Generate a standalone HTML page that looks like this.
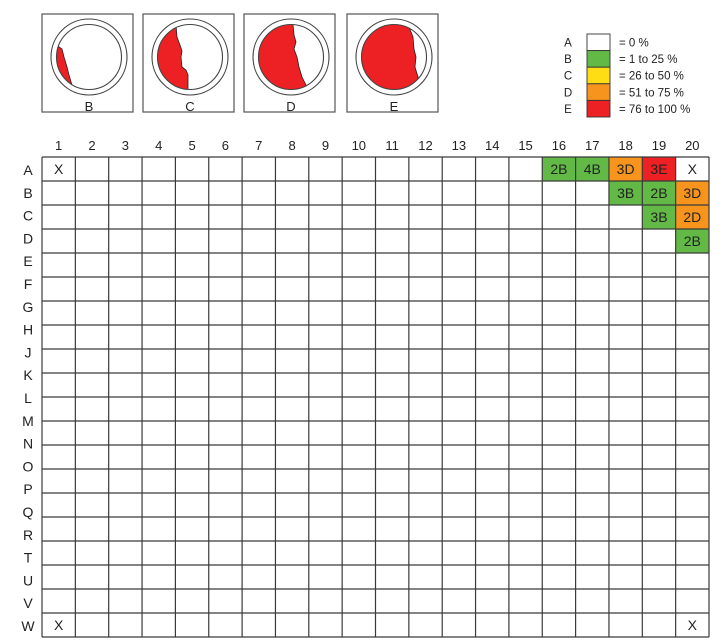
<!DOCTYPE html>
<html><head><meta charset="utf-8"><style>
body{margin:0;background:#fff;font-family:"Liberation Sans",sans-serif;}
svg{display:block}
</style></head><body>
<svg id="chart" width="728" height="641" xmlns="http://www.w3.org/2000/svg" font-family="Liberation Sans, sans-serif"></svg>
<script>
const colLabels=["1","2","3","4","5","6","7","8","9","10","11","12","13","14","15","16","17","18","19","20"];
const rowLabels=["A","B","C","D","E","F","G","H","J","K","L","M","N","O","P","Q","R","T","U","V","W"];
const cellRows=[0,0,0,0,0,0,1,1,1,2,2,3,19,19];
const cellCols=[0,15,16,17,18,19,17,18,19,18,19,19,0,19];
const cellText=["X","2B","4B","3D","3E","X","3B","2B","3D","3B","2D","2B","X","X"];
const legendCodes=["A","B","C","D","E"];
const legendText=["= 0 %","= 1 to 25 %","= 26 to 50 %","= 51 to 75 %","= 76 to 100 %"];
const legendColors=["#ffffff","#62b946","#ffdd15","#f7941d","#ed2024"];
const sampleCodes=["B","C","D","E"];

const NS="http://www.w3.org/2000/svg";
const svg=document.getElementById('chart');
function mk(tag,attrs,parent){const e=document.createElementNS(NS,tag);for(const k in attrs)e.setAttribute(k,attrs[k]);(parent||svg).appendChild(e);return e;}
const gx0=42,gx1=709,gy0=157,gy1=637,nCols=colLabels.length,nGridRows=20;
const cw=(gx1-gx0)/nCols, rh=(gy1-gy0)/nGridRows;
const xCol=i=>gx0+i*cw, yRow=i=>gy0+i*rh;
function colorFor(t){const i=legendCodes.indexOf(t.slice(-1));return (t.length>1&&i>=0)?legendColors[i]:"#fff";}

const boxX=[42,143,244,347];
const bounds=[
 [[-33,-14],[-30,-10],[-27,-8],[-25,0],[-22,10],[-20,18],[-17,28],[-60,40],[-60,-40]],
 [[-14,-40],[-14,-32],[-13,-20],[-10,-12],[-8,-6],[-9,0],[-8,10],[-4,13],[-2,18],[-2,40],[-60,40],[-60,-40]],
 [[2,-40],[2,-33],[3,-22],[5,-15],[3,-8],[6,0],[8,10],[11,20],[15,28],[20,40],[-60,40],[-60,-40]],
 [[14,-40],[15,-30],[19,-20],[20,-8],[22,0],[21,10],[24,20],[26,40],[-60,40],[-60,-40]]];
sampleCodes.forEach((c,i)=>{
  const g=mk('g',{});
  
  
  const x=boxX[i],cx=x+47,cy=57;
  mk('rect',{x:x,y:14,width:91,height:98,fill:'#fff',stroke:'#555','stroke-width':1.2},g);
  mk('circle',{cx:cx,cy:cy,r:38,fill:'#fff',stroke:'#444','stroke-width':1.1},g);
  const cp=mk('clipPath',{id:'cp'+i},g);
  mk('circle',{cx:cx,cy:cy,r:32.5},cp);
  mk('polygon',{points:bounds[i].map(p=>(cx+p[0])+','+(cy+p[1])).join(' '),fill:'#ed2024',stroke:'#222','stroke-width':0.8,'clip-path':'url(#cp'+i+')'},g);
  mk('circle',{cx:cx,cy:cy,r:32.5,fill:'none',stroke:'#444','stroke-width':1.1},g);
  const t=mk('text',{x:cx,y:111,'font-size':13,'text-anchor':'middle',fill:'#222'},g);t.textContent=c;
});

legendCodes.forEach((c,i)=>{
  const g=mk('g',{});
  
  
  const y=34+i*16.6;
  mk('rect',{x:587,y:y,width:23,height:16.6,fill:legendColors[i],stroke:'#333','stroke-width':0.9},g);
  let t=mk('text',{x:568,y:y+12.5,'font-size':11.5,'text-anchor':'middle',fill:'#222'},g);t.textContent=c;
  t=mk('text',{x:619,y:y+12.5,'font-size':11.5,fill:'#222'},g);t.textContent=legendText[i];
});

cellText.forEach((t,k)=>{
  const r=mk('rect',{x:xCol(cellCols[k]),y:yRow(cellRows[k]),width:cw,height:rh,fill:colorFor(t)});
  
  
  const tx=mk('text',{x:xCol(cellCols[k])+cw/2,y:yRow(cellRows[k])+rh/2+5,'font-size':14,'text-anchor':'middle',fill:'#222'});
  tx.textContent=t;
});

const grid=mk('g',{stroke:'#3a3a3a','stroke-width':1.2});


for(let i=0;i<=nCols;i++)mk('line',{x1:xCol(i),x2:xCol(i),y1:gy0,y2:gy1},grid);
for(let j=0;j<=nGridRows;j++)mk('line',{x1:gx0,x2:gx1,y1:yRow(j),y2:yRow(j)},grid);

colLabels.forEach((c,i)=>{
  const t=mk('text',{x:xCol(i)+cw/2,y:150,'font-size':13,'text-anchor':'middle',fill:'#222'});
  
  
  t.textContent=c;
});
rowLabels.forEach((c,i)=>{
  const t=mk('text',{x:28,y:175+i*22.8,'font-size':14,'text-anchor':'middle',fill:'#222'});
  
  
  t.textContent=c;
});
</script>
</body></html>
